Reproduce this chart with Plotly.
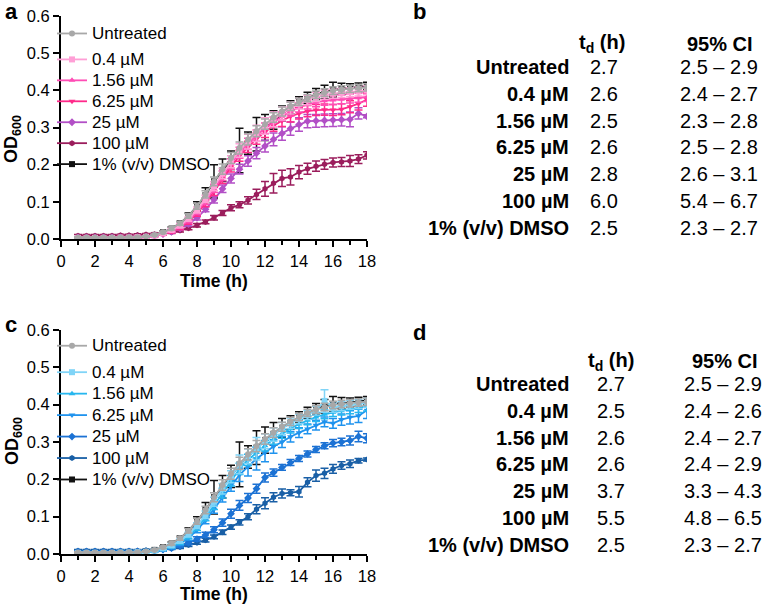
import plotly.graph_objects as go

# ---------------- data ----------------
time_h = [1, 1.5, 2, 2.5, 3, 3.5, 4, 4.5, 5, 5.5, 6, 6.5, 7, 7.5, 8, 8.5, 9, 9.5,
          10, 10.5, 11, 11.5, 12, 12.5, 13, 13.5, 14, 14.5, 15, 15.5, 16, 16.5, 17, 17.5, 18]

series_names = ["Untreated", "0.4 µM", "1.56 µM", "6.25 µM", "25 µM", "100 µM", "1% (v/v) DMSO"]

# Panel a
a_untreated = [0.004,0.004,0.004,0.004,0.004,0.004,0.005,0.005,0.007,0.011,0.018,0.028,0.042,0.062,0.088,0.120,0.155,0.188,0.218,0.245,0.268,0.290,0.309,0.327,0.343,0.357,0.369,0.379,0.388,0.394,0.399,0.402,0.404,0.406,0.408]
a_04 = [0.003,0.003,0.003,0.003,0.003,0.004,0.004,0.005,0.006,0.009,0.015,0.024,0.036,0.054,0.078,0.108,0.142,0.176,0.208,0.238,0.262,0.284,0.304,0.322,0.338,0.352,0.364,0.374,0.382,0.388,0.391,0.393,0.395,0.397,0.400]
a_156 = [0.003,0.003,0.003,0.003,0.003,0.003,0.004,0.005,0.006,0.009,0.014,0.022,0.033,0.050,0.073,0.102,0.136,0.170,0.202,0.232,0.256,0.278,0.298,0.315,0.330,0.343,0.354,0.362,0.368,0.372,0.374,0.376,0.378,0.380,0.382]
a_625 = [0.003,0.003,0.003,0.003,0.003,0.003,0.004,0.005,0.006,0.008,0.013,0.020,0.030,0.046,0.068,0.096,0.128,0.162,0.194,0.224,0.248,0.270,0.288,0.305,0.318,0.330,0.338,0.344,0.347,0.348,0.347,0.349,0.356,0.364,0.375]
a_25 = [0.004,0.004,0.004,0.004,0.004,0.004,0.005,0.005,0.006,0.009,0.013,0.019,0.028,0.040,0.057,0.080,0.106,0.135,0.163,0.188,0.210,0.231,0.250,0.268,0.284,0.297,0.308,0.317,0.318,0.319,0.320,0.321,0.322,0.338,0.330]
a_100 = [0.009,0.009,0.009,0.009,0.009,0.010,0.010,0.011,0.012,0.013,0.015,0.018,0.023,0.029,0.037,0.046,0.057,0.070,0.084,0.092,0.104,0.120,0.135,0.150,0.163,0.167,0.180,0.189,0.196,0.201,0.206,0.207,0.210,0.215,0.225]
a_dmso = [0.004,0.004,0.004,0.004,0.004,0.004,0.005,0.005,0.007,0.011,0.018,0.028,0.042,0.062,0.088,0.118,0.155,0.185,0.212,0.238,0.258,0.282,0.300,0.320,0.338,0.354,0.368,0.380,0.390,0.396,0.402,0.404,0.406,0.408,0.412]

a_untreated_err = [0.002,0.002,0.002,0.002,0.002,0.002,0.002,0.002,0.002,0.002,0.003,0.004,0.005,0.006,0.008,0.010,0.012,0.014,0.015,0.016,0.015,0.015,0.014,0.013,0.012,0.011,0.010,0.010,0.010,0.010,0.010,0.010,0.010,0.010,0.010]
a_04_err = [0.002,0.002,0.002,0.002,0.002,0.002,0.002,0.002,0.002,0.002,0.003,0.004,0.005,0.006,0.008,0.010,0.012,0.014,0.016,0.018,0.020,0.022,0.022,0.020,0.018,0.016,0.014,0.013,0.012,0.012,0.012,0.012,0.012,0.012,0.012]
a_156_err = [0.002,0.002,0.002,0.002,0.002,0.002,0.002,0.002,0.002,0.002,0.003,0.004,0.005,0.006,0.007,0.009,0.011,0.013,0.014,0.015,0.015,0.015,0.014,0.013,0.012,0.012,0.012,0.012,0.012,0.012,0.012,0.012,0.012,0.012,0.012]
a_625_err = [0.002,0.002,0.002,0.002,0.002,0.002,0.002,0.002,0.002,0.002,0.003,0.004,0.005,0.006,0.007,0.009,0.011,0.013,0.014,0.015,0.015,0.015,0.015,0.015,0.015,0.015,0.015,0.015,0.015,0.015,0.015,0.015,0.016,0.017,0.018]
a_25_err = [0.002,0.002,0.002,0.002,0.002,0.002,0.002,0.002,0.002,0.002,0.003,0.003,0.004,0.005,0.006,0.007,0.009,0.010,0.012,0.013,0.014,0.015,0.016,0.017,0.018,0.018,0.018,0.018,0.017,0.017,0.017,0.017,0.020,0.015,0.004]
a_100_err = [0.003,0.003,0.003,0.003,0.003,0.003,0.003,0.003,0.003,0.003,0.003,0.003,0.004,0.004,0.005,0.005,0.006,0.007,0.008,0.008,0.010,0.014,0.020,0.026,0.022,0.022,0.018,0.015,0.014,0.013,0.012,0.012,0.015,0.012,0.010]
a_dmso_err = [0.002,0.002,0.002,0.002,0.002,0.002,0.002,0.002,0.002,0.002,0.003,0.004,0.005,0.008,0.012,0.020,0.045,0.030,0.025,0.060,0.030,0.045,0.035,0.025,0.020,0.018,0.015,0.015,0.015,0.018,0.020,0.015,0.012,0.012,0.010]

# Panel c
c_untreated = [0.004,0.004,0.004,0.004,0.004,0.004,0.005,0.005,0.007,0.011,0.018,0.028,0.042,0.062,0.088,0.118,0.152,0.185,0.215,0.243,0.267,0.289,0.308,0.325,0.341,0.355,0.367,0.378,0.387,0.394,0.399,0.402,0.404,0.406,0.408]
c_04 = [0.003,0.003,0.003,0.003,0.003,0.004,0.004,0.005,0.006,0.009,0.015,0.023,0.035,0.052,0.076,0.105,0.140,0.175,0.207,0.240,0.262,0.282,0.302,0.320,0.336,0.350,0.362,0.372,0.384,0.410,0.392,0.396,0.400,0.402,0.405]
c_156 = [0.003,0.003,0.003,0.003,0.003,0.003,0.004,0.005,0.006,0.008,0.013,0.020,0.031,0.047,0.070,0.098,0.130,0.163,0.196,0.228,0.252,0.272,0.290,0.307,0.322,0.336,0.348,0.358,0.367,0.374,0.380,0.384,0.388,0.391,0.395]
c_625 = [0.003,0.003,0.003,0.003,0.003,0.003,0.004,0.005,0.006,0.008,0.012,0.018,0.028,0.043,0.064,0.090,0.120,0.152,0.182,0.212,0.234,0.255,0.272,0.288,0.300,0.314,0.325,0.335,0.345,0.354,0.350,0.360,0.366,0.370,0.385]
c_25 = [0.006,0.006,0.006,0.006,0.006,0.006,0.006,0.007,0.007,0.009,0.012,0.016,0.022,0.030,0.040,0.051,0.065,0.084,0.108,0.130,0.150,0.175,0.205,0.218,0.232,0.245,0.256,0.268,0.280,0.290,0.297,0.300,0.304,0.315,0.310]
c_100 = [0.009,0.009,0.009,0.009,0.009,0.009,0.009,0.009,0.010,0.010,0.012,0.015,0.019,0.024,0.030,0.037,0.046,0.058,0.072,0.085,0.100,0.120,0.136,0.152,0.162,0.164,0.167,0.192,0.210,0.216,0.228,0.237,0.242,0.250,0.253]
c_dmso = [0.004,0.004,0.004,0.004,0.004,0.004,0.005,0.005,0.007,0.011,0.018,0.028,0.042,0.062,0.088,0.118,0.152,0.180,0.208,0.240,0.260,0.285,0.305,0.322,0.338,0.352,0.366,0.378,0.388,0.396,0.402,0.404,0.406,0.408,0.412]

c_untreated_err = [0.002,0.002,0.002,0.002,0.002,0.002,0.002,0.002,0.002,0.002,0.003,0.004,0.005,0.006,0.008,0.010,0.012,0.014,0.015,0.016,0.015,0.015,0.014,0.013,0.012,0.011,0.010,0.010,0.010,0.010,0.010,0.010,0.010,0.010,0.010]
c_04_err = [0.002,0.002,0.002,0.002,0.002,0.002,0.002,0.002,0.002,0.002,0.003,0.004,0.005,0.006,0.008,0.010,0.012,0.014,0.016,0.025,0.020,0.030,0.020,0.018,0.016,0.014,0.013,0.012,0.012,0.030,0.012,0.012,0.012,0.012,0.012]
c_156_err = [0.002,0.002,0.002,0.002,0.002,0.002,0.002,0.002,0.002,0.002,0.003,0.004,0.005,0.006,0.007,0.009,0.011,0.013,0.014,0.015,0.015,0.015,0.014,0.013,0.012,0.012,0.012,0.012,0.012,0.012,0.012,0.012,0.012,0.012,0.012]
c_625_err = [0.002,0.002,0.002,0.002,0.002,0.002,0.002,0.002,0.002,0.002,0.003,0.004,0.005,0.006,0.007,0.009,0.011,0.013,0.014,0.018,0.025,0.030,0.025,0.018,0.015,0.014,0.013,0.013,0.013,0.013,0.013,0.015,0.018,0.018,0.022]
c_25_err = [0.002,0.002,0.002,0.002,0.002,0.002,0.002,0.002,0.002,0.002,0.003,0.003,0.004,0.005,0.006,0.007,0.008,0.010,0.012,0.013,0.012,0.012,0.012,0.010,0.008,0.008,0.008,0.008,0.008,0.008,0.010,0.010,0.012,0.014,0.012]
c_100_err = [0.003,0.003,0.003,0.003,0.003,0.003,0.003,0.003,0.003,0.003,0.003,0.003,0.004,0.004,0.004,0.005,0.005,0.006,0.006,0.007,0.008,0.012,0.015,0.012,0.012,0.008,0.014,0.012,0.015,0.014,0.012,0.010,0.010,0.006,0.004]
c_dmso_err = [0.002,0.002,0.002,0.002,0.002,0.002,0.002,0.002,0.002,0.002,0.003,0.004,0.005,0.008,0.012,0.020,0.045,0.030,0.030,0.060,0.030,0.045,0.035,0.030,0.025,0.018,0.015,0.015,0.015,0.018,0.020,0.015,0.012,0.012,0.010]

# tables
row_labels = ["Untreated", "0.4 µM", "1.56 µM", "6.25 µM", "25 µM", "100 µM", "1% (v/v) DMSO"]
b_td = ["2.7", "2.6", "2.5", "2.6", "2.8", "6.0", "2.5"]
b_ci = ["2.5 – 2.9", "2.4 – 2.7", "2.3 – 2.8", "2.5 – 2.8", "2.6 – 3.1", "5.4 – 6.7", "2.3 – 2.7"]
d_td = ["2.7", "2.5", "2.6", "2.6", "3.7", "5.5", "2.5"]
d_ci = ["2.5 – 2.9", "2.4 – 2.6", "2.4 – 2.7", "2.4 – 2.9", "3.3 – 4.3", "4.8 – 6.5", "2.3 – 2.7"]

# ---------------- styles ----------------
W, H = 766, 607
FONT = "Liberation Sans, Arial, sans-serif"
symbols = ["circle", "square", "triangle-up", "triangle-down", "diamond", "hexagon", "square"]
pink_colors = ["#a8a8a8", "#ff9fd6", "#ff4db5", "#ff2a8a", "#b24fc6", "#9b1d5c", "#111111"]
blue_colors = ["#a8a8a8", "#80d4f7", "#27b7ef", "#1f93ee", "#1c72d4", "#195fa6", "#111111"]

def px_x(p):
    return p / W

def px_y(p):
    return 1 - p / H

fig = go.Figure()

panels = [
    dict(xa="x", ya="y", legend="legend", colors=pink_colors,
         ys=[a_untreated, a_04, a_156, a_625, a_25, a_100, a_dmso],
         es=[a_untreated_err, a_04_err, a_156_err, a_625_err, a_25_err, a_100_err, a_dmso_err]),
    dict(xa="x2", ya="y2", legend="legend2", colors=blue_colors,
         ys=[c_untreated, c_04, c_156, c_625, c_25, c_100, c_dmso],
         es=[c_untreated_err, c_04_err, c_156_err, c_625_err, c_25_err, c_100_err, c_dmso_err]),
]

draw_order = [6, 5, 4, 3, 2, 1, 0]
for p in panels:
    for i in draw_order:
        col = p["colors"][i]
        fig.add_trace(go.Scatter(
            x=time_h, y=p["ys"][i], mode="lines+markers",
            name='<span style="font-size:17px">' + series_names[i] + "</span>",
            line=dict(color=col, width=1.8),
            marker=dict(symbol=symbols[i], size=6, color=col),
            error_y=dict(type="data", array=p["es"][i], color=col, thickness=1.5, width=4),
            xaxis=p["xa"], yaxis=p["ya"], legend=p["legend"],
            legendrank=i + 1, legendgroup=("u" if i == 0 else "r") + p["legend"],
            showlegend=True,
        ))

axis_common = dict(showline=True, linecolor="black", linewidth=2, ticks="outside",
                   ticklen=6, tickwidth=2, tickcolor="black", showgrid=False, zeroline=False,
                   tickfont=dict(family=FONT, size=16.5, color="black"))

xdom = [px_x(61), px_x(367)]
fig.update_layout(
    width=W, height=H, margin=dict(l=0, r=0, t=0, b=0, autoexpand=False),
    paper_bgcolor="white", plot_bgcolor="white",
    font=dict(family=FONT, color="black"),
    xaxis=dict(domain=xdom, range=[0, 18], dtick=2, anchor="y",
               minor=dict(dtick=1, ticks="outside", ticklen=4, tickwidth=2, tickcolor="black"),
               **axis_common),
    yaxis=dict(domain=[px_y(239), px_y(16)], range=[0, 0.6], dtick=0.1, tickformat=".1f",
               anchor="x", **axis_common),
    xaxis2=dict(domain=xdom, range=[0, 18], dtick=2, anchor="y2",
                minor=dict(dtick=1, ticks="outside", ticklen=4, tickwidth=2, tickcolor="black"),
                **axis_common),
    yaxis2=dict(domain=[px_y(554), px_y(330)], range=[0, 0.6], dtick=0.1, tickformat=".1f",
                anchor="x2", **axis_common),
    legend=dict(x=px_x(52), y=px_y(18), xanchor="left", yanchor="top",
                bgcolor="rgba(0,0,0,0)", font=dict(family=FONT, size=13.8, color="black"),
                traceorder="grouped", tracegroupgap=5, itemclick=False),
    legend2=dict(x=px_x(52), y=px_y(330), xanchor="left", yanchor="top",
                 bgcolor="rgba(0,0,0,0)", font=dict(family=FONT, size=14.2, color="black"),
                 traceorder="grouped", tracegroupgap=5, itemclick=False),
    showlegend=True,
)

ann = []
def add(text, x, y, size, xanchor="center", bold=False, angle=0):
    ann.append(dict(text=("<b>" + text + "</b>") if bold else text, x=px_x(x), y=px_y(y),
                    xref="paper", yref="paper", xanchor=xanchor, yanchor="middle",
                    showarrow=False, textangle=angle,
                    font=dict(family=FONT, size=size, color="black")))

# panel letters
add("a", 3, 12, 22, "left", True)
add("c", 3, 325, 22, "left", True)
add("b", 411, 12, 22, "left", True)
add("d", 411, 333, 22, "left", True)

# axis titles
add("Time (h)", 214, 281, 17.5, "center", True)
add("Time (h)", 214, 594, 17.5, "center", True)
add("OD<sub>600</sub>", 13, 139, 18, "center", True, -90)
add("OD<sub>600</sub>", 13, 441, 18, "center", True, -90)

# tables
TS = 20
tables = [
    dict(td=b_td, ci=b_ci, head_y=44, rows_y0=67, td_x=604, ci_x=719, head_td_x=602, head_ci_x=720),
    dict(td=d_td, ci=d_ci, head_y=361, rows_y0=384, td_x=611, ci_x=723, head_td_x=611, head_ci_x=725),
]
for t in tables:
    add("t<sub>d</sub> (h)", t["head_td_x"], t["head_y"], TS, "center", True)
    add("95% CI", t["head_ci_x"], t["head_y"], TS, "center", True)
    for k, lab in enumerate(row_labels):
        yy = t["rows_y0"] + k * 26.8
        add(lab, 571, yy, TS, "right", True)
        add(t["td"][k], t["td_x"], yy, TS, "center")
        add(t["ci"][k], t["ci_x"], yy, TS, "center")

fig.update_layout(annotations=ann)
fig.write_html("out.html", config={"displayModeBar": False},
               post_script="document.body.style.margin='0';")
